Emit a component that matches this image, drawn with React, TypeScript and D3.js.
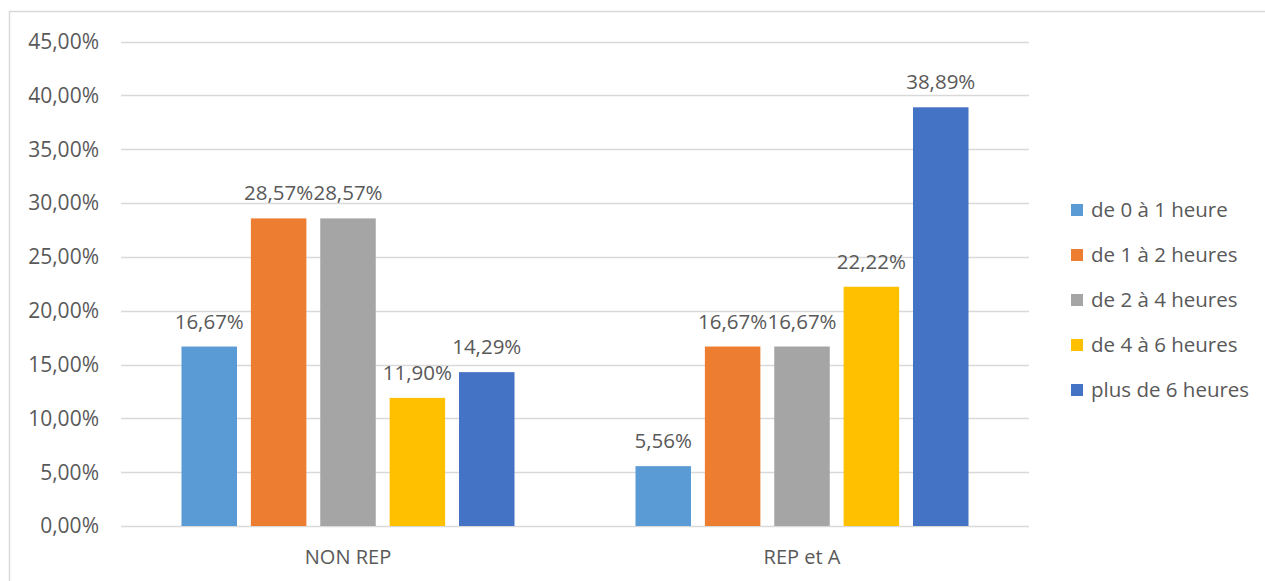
import * as d3 from "d3";
import React, { useEffect, useRef } from "react";

const categories = ["NON REP", "REP et A"];
const seriesNames = [
  "de 0 à 1 heure",
  "de 1 à 2 heures",
  "de 2 à 4 heures",
  "de 4 à 6 heures",
  "plus de 6 heures",
];
const seriesColors = ["#5B9BD5", "#ED7D31", "#A5A5A5", "#FFC000", "#4472C4"];
// values per series, one entry per category
const values0to1 = [16.67, 5.56];
const values1to2 = [28.57, 16.67];
const values2to4 = [28.57, 16.67];
const values4to6 = [11.9, 22.22];
const valuesOver6 = [14.29, 38.89];
const yTicks = [0, 5, 10, 15, 20, 25, 30, 35, 40, 45];

const allValues = [values0to1, values1to2, values2to4, values4to6, valuesOver6];

const fmt = (v: number) => v.toFixed(2).replace(".", ",") + "%";

const App = () => {
  const svgRef = useRef<SVGSVGElement>(null);

  useEffect(() => {
    const width = 1265;
    const height = 581;
    const font = "'Open Sans', 'Noto Sans', sans-serif";
    const textColor = "#595959";

    const svg = d3.select(svgRef.current);
    svg.selectAll("*").remove();
    svg.attr("width", width).attr("height", height);

    // chart border
    svg
      .append("rect")
      .attr("x", 9.5)
      .attr("y", 11.5)
      .attr("width", 1400)
      .attr("height", 700)
      .attr("fill", "#fff")
      .attr("stroke", "#D9D9D9")
      .attr("stroke-width", 1.5);

    const left = 121;
    const right = 1029;
    const y = d3.scaleLinear().domain([0, 45]).range([526, 41.5]);
    const x0 = d3.scaleBand<string>().domain(categories).range([left, right]);
    const x1 = d3
      .scaleBand<string>()
      .domain(seriesNames)
      .range([60.5, x0.bandwidth() - 60.5])
      .paddingInner(0.2);

    // gridlines + tick labels
    const grid = svg.append("g");
    grid
      .selectAll("line")
      .data(yTicks)
      .enter()
      .append("line")
      .attr("x1", left)
      .attr("x2", right)
      .attr("y1", (d) => Math.round(y(d)) + 0.5)
      .attr("y2", (d) => Math.round(y(d)) + 0.5)
      .attr("stroke", "#D9D9D9")
      .attr("stroke-width", 1.3);
    grid
      .selectAll("text")
      .data(yTicks)
      .enter()
      .append("text")
      .attr("x", 99)
      .attr("y", (d) => y(d))
      .attr("dy", "0.35em")
      .attr("text-anchor", "end")
      .style("font-family", font)
      .style("font-size", "21px")
      .style("fill", textColor)
      .text((d) => fmt(d));

    // bars
    const groups = svg
      .selectAll("g.cat")
      .data(categories)
      .enter()
      .append("g")
      .attr("class", "cat")
      .attr("transform", (d) => `translate(${x0(d)},0)`);

    groups.each(function (cat, ci) {
      const g = d3.select(this);
      const rows = seriesNames.map((s, si) => ({
        s,
        v: allValues[si][ci],
        c: seriesColors[si],
      }));
      g.selectAll("rect")
        .data(rows)
        .enter()
        .append("rect")
        .attr("x", (d) => x1(d.s)!)
        .attr("y", (d) => y(d.v))
        .attr("width", x1.bandwidth())
        .attr("height", (d) => y(0) - y(d.v))
        .attr("fill", (d) => d.c);
      g.selectAll("text.lbl")
        .data(rows)
        .enter()
        .append("text")
        .attr("class", "lbl")
        .attr("x", (d) => x1(d.s)! + x1.bandwidth() / 2)
        .attr("y", (d) => y(d.v) - 18)
        .attr("text-anchor", "middle")
        .style("font-family", font)
        .style("font-size", "20.5px")
        .style("fill", textColor)
        .text((d) => fmt(d.v));
      g.append("text")
        .attr("x", x0.bandwidth() / 2)
        .attr("y", 557)
        .attr("dy", "0.35em")
        .attr("text-anchor", "middle")
        .style("font-family", font)
        .style("font-size", "20px")
        .style("fill", textColor)
        .text(cat);
    });

    // legend
    const legend = svg
      .selectAll("g.legend")
      .data(seriesNames)
      .enter()
      .append("g")
      .attr("class", "legend")
      .attr("transform", (d, i) => `translate(1071,${210 + i * 45})`);
    legend
      .append("rect")
      .attr("x", 0)
      .attr("y", -6)
      .attr("width", 12)
      .attr("height", 12)
      .attr("fill", (d, i) => seriesColors[i]);
    legend
      .append("text")
      .attr("x", 20)
      .attr("y", 0)
      .attr("dy", "0.35em")
      .style("font-family", font)
      .style("font-size", "20.5px")
      .style("fill", textColor)
      .text((d) => d);
  }, []);

  return (
    <div style={{ position: "absolute", left: 0, top: 0 }}>
      <svg ref={svgRef} style={{ display: "block" }}></svg>
    </div>
  );
};

export default App;
